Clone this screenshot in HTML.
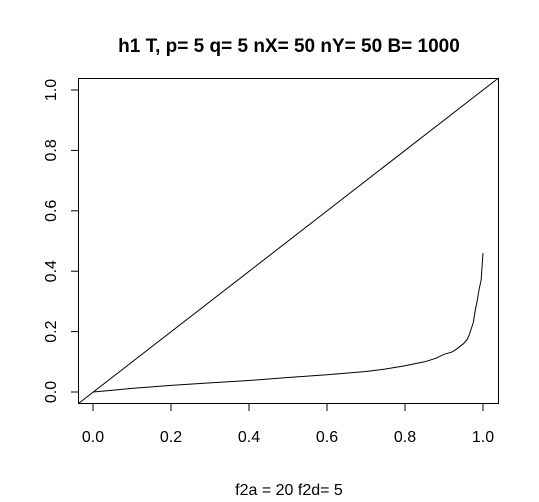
<!DOCTYPE html>
<html><head><meta charset="utf-8"><style>
body{margin:0;background:#fff}
svg{display:block;font-family:"Liberation Sans",sans-serif}
</style></head><body>
<svg id="c" width="539" height="502">
<text x="289" y="52" text-anchor="middle" font-size="19" font-weight="bold">h1 T, p= 5 q= 5 nX= 50 nY= 50 B= 1000</text>
<text x="289" y="495" text-anchor="middle" font-size="16">f2a = 20 f2d= 5</text>
<rect x="78.5" y="78.5" width="420" height="325" fill="none" stroke="#000"/>
<g id="ax"></g>
<line x1="78.5" y1="403.5" x2="498.5" y2="78" stroke="#000"/>
<path id="curve" fill="none" stroke="#000" stroke-width="1"/>
</svg>
<script>
const xTicks=[0,0.2,0.4,0.6,0.8,1.0];
const yTicks=[0,0.2,0.4,0.6,0.8,1.0];
const xs=[0,0.05,0.1,0.2,0.3,0.4,0.5,0.6,0.7,0.75,0.8,0.85,0.88,0.9,0.92,0.93,0.94,0.95,0.96,0.965,0.97,0.975,0.98,0.985,0.99,0.995,1.0];
const ys=[0,0.006,0.012,0.022,0.03,0.038,0.048,0.057,0.068,0.076,0.087,0.1,0.112,0.125,0.132,0.14,0.15,0.16,0.175,0.19,0.21,0.23,0.27,0.3,0.34,0.37,0.46];
const X=v=>93+v*390, Y=v=>392-v*302;
const ax=document.getElementById('ax');
const NS='http://www.w3.org/2000/svg';
function mk(t,a){const e=document.createElementNS(NS,t);for(const k in a)e.setAttribute(k,a[k]);ax.appendChild(e);return e;}
xTicks.forEach(v=>{
 const l=mk('line',{x1:X(v),x2:X(v),y1:403.5,y2:411,stroke:'#000'});
 
 
 const t=mk('text',{x:X(v),y:442,'text-anchor':'middle','font-size':16});t.textContent=v.toFixed(1);
 
 
});
yTicks.forEach(v=>{
 const l=mk('line',{x1:71,x2:78.5,y1:Y(v),y2:Y(v),stroke:'#000'});
 
 
 const t=mk('text',{x:0,y:0,'text-anchor':'middle','font-size':16,transform:`translate(56,${Y(v)}) rotate(-90)`});t.textContent=v.toFixed(1);
 
 
});
document.getElementById('curve').setAttribute('d',xs.map((x,i)=>(i?'L':'M')+X(x).toFixed(1)+','+Y(ys[i]).toFixed(1)).join(''));
</script>
</body></html>
